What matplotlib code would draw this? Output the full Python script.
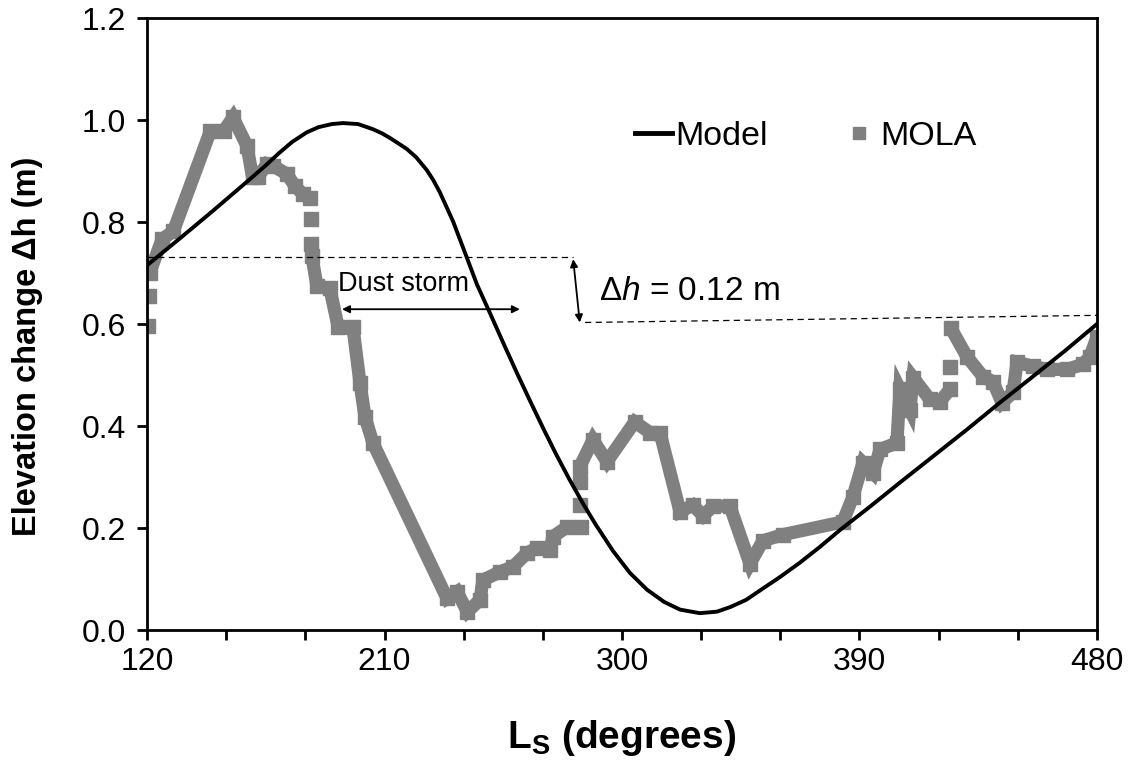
import numpy as np
import matplotlib
matplotlib.use("Agg")
import matplotlib.pyplot as plt
from matplotlib.lines import Line2D

plt.rcParams['font.family'] = ['Liberation Sans', 'DejaVu Sans']
plt.rcParams['mathtext.fontset'] = 'custom'
plt.rcParams['mathtext.rm'] = 'Liberation Sans'
plt.rcParams['mathtext.it'] = 'Liberation Sans:italic'
plt.rcParams['mathtext.bf'] = 'Liberation Sans:bold'

nan = np.nan

# model curve
model_ls = [120, 132.5, 145, 152, 159, 165, 170, 175, 180.6, 185, 190, 194.3,
            200, 205.6, 209, 212, 215, 218.5, 222, 226, 228.5, 231, 236, 241,
            245, 250, 255, 260, 265, 270, 275, 280, 285, 290, 296.6, 303, 309.5,
            316, 322, 329.5, 336, 341, 347, 353, 359.9, 367.4, 375, 382.6, 394,
            405.3, 418, 430.7, 443, 455.7, 468, 480]
model_dh = [0.715, 0.768, 0.822, 0.853, 0.884, 0.911, 0.935, 0.957, 0.976, 0.986,
            0.992, 0.994, 0.992, 0.982, 0.974, 0.965, 0.955, 0.943, 0.927, 0.902,
            0.882, 0.858, 0.801, 0.733, 0.678, 0.621, 0.563, 0.506, 0.451, 0.397,
            0.345, 0.296, 0.250, 0.207, 0.155, 0.112, 0.079, 0.055, 0.040, 0.033,
            0.036, 0.045, 0.059, 0.080, 0.104, 0.132, 0.163, 0.196, 0.242, 0.289,
            0.341, 0.393, 0.445, 0.497, 0.548, 0.600]

# MOLA observations, nan = gap in the record
mola_ls = [120.4, nan, 120.6, nan,
           121, 125.7, 130, 144, 149, 152.6, 157.9, 160, 162, 165.5, 167.8, 173,
           176, 179, 181.8, nan,
           182.0, nan, 182.3, nan,
           182.5, 184.4, 189.3, 192.4, 198, 200.7, 202.6, 205.6, 233.7, 237.5,
           241.4, 246.2, 247.3, 253.8, 258.7, 264, 267.8, 272.7, 273.8, 279.2,
           284.3, nan,
           284.0, nan, 284.0, nan,
           284, 289, 294.3, 304.8, 310.6, 314.4, 322, 326.9, 330.7, 334.5, 340.9,
           348.5, 353.4, 361, 383.7, 387.5, 391.3, 395.1, 397.8, 404.2, 405.3,
           409.1, 410.3, 416.7, 420.5, 424.3, nan,
           424.3, nan,
           424.5, 430.7, 436.8, 440.6, 444, 448.2, 449.7, 455.7, 461, 468.6, 474.7,
           477.3, 480]
mola_dh = [0.596, nan, 0.655, nan,
           0.700, 0.766, 0.782, 0.978, 0.978, 1.005, 0.949, 0.888, 0.888, 0.914,
           0.910, 0.894, 0.871, 0.855, 0.847, nan,
           0.805, nan, 0.756, nan,
           0.733, 0.674, 0.670, 0.595, 0.595, 0.485, 0.418, 0.367, 0.062, 0.075,
           0.036, 0.059, 0.098, 0.114, 0.124, 0.151, 0.161, 0.157, 0.183, 0.202,
           0.202, nan,
           0.246, nan, 0.290, nan,
           0.320, 0.373, 0.330, 0.408, 0.387, 0.387, 0.232, 0.245, 0.224, 0.243,
           0.243, 0.130, 0.175, 0.187, 0.212, 0.261, 0.328, 0.308, 0.354, 0.367,
           0.472, 0.432, 0.495, 0.452, 0.448, 0.472, nan,
           0.515, nan,
           0.593, 0.536, 0.497, 0.487, 0.446, 0.466, 0.525, 0.517, 0.511, 0.511,
           0.521, 0.536, 0.574]

xticks = [120, 210, 300, 390, 480]
yticks = [0.0, 0.2, 0.4, 0.6, 0.8, 1.0, 1.2]

fig = plt.figure(figsize=(11.37, 7.63), dpi=100)
ax = fig.add_axes([0.1293, 0.1743, 0.8355, 0.8021])

gray = '#808080'
ax.plot(mola_ls, mola_dh, color=gray, lw=9.5, marker='s', ms=9.5, mec=gray,
        mfc=gray, solid_joinstyle='miter', solid_capstyle='butt', zorder=2)
ax.plot(model_ls, model_dh, color='black', lw=2.8, zorder=3)

# dashed reference levels and annotations
ax.plot([120, 281.5], [0.731, 0.731], color='black', lw=0.9, ls=(0, (5, 3.5)), zorder=4)
ax.plot([286, 480], [0.603, 0.617], color='black', lw=0.9, ls=(0, (5, 3.5)), zorder=4)
arrow = dict(arrowstyle='<|-|>', color='black', lw=1.3, mutation_scale=11,
             shrinkA=0, shrinkB=0)
ax.annotate('', xy=(284, 0.603), xytext=(281.5, 0.727), arrowprops=arrow, zorder=4)
ax.annotate('', xy=(261.3, 0.629), xytext=(193.9, 0.629), arrowprops=arrow, zorder=4)
ax.text(192.4, 0.664, 'Dust storm', fontsize=19.5, ha='left', va='baseline', zorder=5)
ax.text(291.2, 0.648, r'Δ$h$ = 0.12 m', fontsize=24, ha='left', va='baseline', zorder=5)

ax.set_xlim(120, 480)
ax.set_ylim(0, 1.2)
ax.set_xticks(np.arange(120, 481, 30))
ax.set_xticklabels([str(t) if t in xticks else '' for t in range(120, 481, 30)])
ax.set_yticks(yticks)
ax.set_yticklabels(['%.1f' % t for t in yticks])
ax.tick_params(axis='both', direction='out', length=7, width=2, labelsize=23,
               colors='black')
ax.tick_params(axis='x', pad=5)
ax.tick_params(axis='y', pad=8)
for s in ax.spines.values():
    s.set_linewidth(2)

ax.set_xlabel(r'L$_{\mathbf{S}}$ (degrees)', fontsize=28, fontweight='bold', va='center')
ax.xaxis.set_label_coords(0.5, -0.176)
ax.set_ylabel('Elevation change Δh (m)', fontsize=23.5, fontweight='bold', va='center')
ax.yaxis.set_label_coords(-0.126, 0.464)

handles = [Line2D([], [], color='black', lw=3.5),
           Line2D([], [], color=gray, ls='none', marker='s', ms=8.5)]
ax.legend(handles, ['Model', 'MOLA'], loc='center left', bbox_to_anchor=(0.5137, 0.806),
          ncol=2, frameon=False, fontsize=24.5, handlelength=1.09, handletextpad=0.08,
          columnspacing=2.15, borderpad=0, borderaxespad=0)

fig.savefig('out.png', dpi=100)
